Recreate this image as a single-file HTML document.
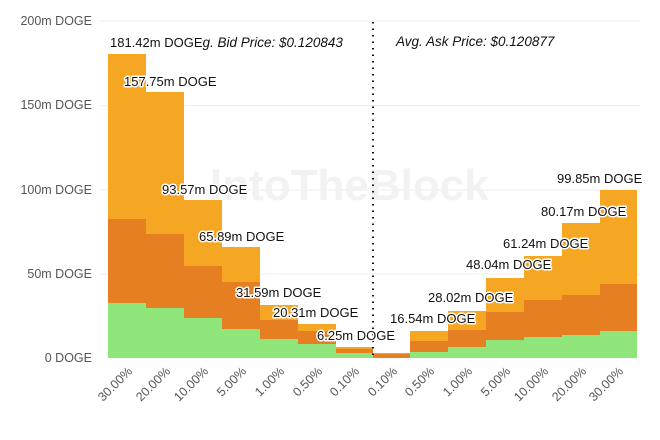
<!DOCTYPE html>
<html><head><style>body{margin:0;background:#fff}svg{display:block;font-family:"Liberation Sans",sans-serif}</style></head><body>
<svg width="660" height="440" viewBox="0 0 660 440">
<g stroke="#ececec" stroke-width="1">
<line x1="100" y1="21" x2="640" y2="21"/><line x1="100" y1="105.5" x2="640" y2="105.5"/><line x1="100" y1="190" x2="640" y2="190"/><line x1="100" y1="274" x2="640" y2="274"/>
</g>
<g font-size="12.5" fill="#555" text-anchor="end">
<text x="92" y="25">200m DOGE</text><text x="92" y="109">150m DOGE</text><text x="92" y="194">100m DOGE</text><text x="92" y="278">50m DOGE</text><text x="92" y="362">0 DOGE</text>
</g>
<text x="210" y="200" font-size="44" font-weight="bold" fill="#f2f2f2">IntoTheBlock</text>
<g fill="#f5a623">
<rect x="108" y="54" width="38" height="304"/>
<rect x="146" y="92" width="38" height="266"/>
<rect x="184" y="200" width="38" height="158"/>
<rect x="222" y="247" width="38" height="111"/>
<rect x="260" y="305" width="38" height="53"/>
<rect x="298" y="324" width="38" height="34"/>
<rect x="336" y="347" width="37" height="11"/>
<rect x="373" y="353" width="37" height="5"/>
<rect x="410" y="331" width="38" height="27"/>
<rect x="448" y="311" width="38" height="47"/>
<rect x="486" y="278" width="38" height="80"/>
<rect x="524" y="256" width="38" height="102"/>
<rect x="562" y="223" width="38" height="135"/>
<rect x="600" y="190" width="37" height="168"/>
</g>
<g fill="#e67e22">
<rect x="108" y="219" width="38" height="139"/>
<rect x="146" y="234" width="38" height="124"/>
<rect x="184" y="266" width="38" height="92"/>
<rect x="222" y="282" width="38" height="76"/>
<rect x="260" y="320" width="38" height="38"/>
<rect x="298" y="331" width="38" height="27"/>
<rect x="336" y="349" width="37" height="9"/>
<rect x="373" y="354" width="37" height="4"/>
<rect x="410" y="341" width="38" height="17"/>
<rect x="448" y="330" width="38" height="28"/>
<rect x="486" y="312" width="38" height="46"/>
<rect x="524" y="300" width="38" height="58"/>
<rect x="562" y="295" width="38" height="63"/>
<rect x="600" y="284" width="37" height="74"/>
</g>
<g fill="#8fe57a">
<rect x="108" y="303" width="38" height="55"/>
<rect x="146" y="308" width="38" height="50"/>
<rect x="184" y="318" width="38" height="40"/>
<rect x="222" y="329" width="38" height="29"/>
<rect x="260" y="339" width="38" height="19"/>
<rect x="298" y="344" width="38" height="14"/>
<rect x="336" y="353" width="37" height="5"/>
<rect x="410" y="352" width="38" height="6"/>
<rect x="448" y="347" width="38" height="11"/>
<rect x="486" y="340" width="38" height="18"/>
<rect x="524" y="337" width="38" height="21"/>
<rect x="562" y="335" width="38" height="23"/>
<rect x="600" y="331" width="37" height="27"/>
</g>
<line x1="373" y1="22" x2="373" y2="356" stroke="#111" stroke-width="2" stroke-dasharray="1.5,5"/>
<g font-size="13.5" font-style="italic" fill="#111">
<text x="187" y="47">Avg. Bid Price: $0.120843</text>
<text x="396" y="46">Avg. Ask Price: $0.120877</text>
</g>
<g font-size="13" fill="#111" stroke="#fff" stroke-width="3" paint-order="stroke" stroke-linejoin="round">
<text x="110" y="47">181.42m DOGE</text>
<text x="124" y="86">157.75m DOGE</text>
<text x="162" y="194">93.57m DOGE</text>
<text x="199" y="241">65.89m DOGE</text>
<text x="236" y="297">31.59m DOGE</text>
<text x="273" y="317">20.31m DOGE</text>
<text x="317" y="340">6.25m DOGE</text>
<text x="390" y="323">16.54m DOGE</text>
<text x="428" y="302">28.02m DOGE</text>
<text x="466" y="269">48.04m DOGE</text>
<text x="503" y="248">61.24m DOGE</text>
<text x="541" y="216">80.17m DOGE</text>
<text x="557" y="183">99.85m DOGE</text>
</g>
<g font-size="12.5" fill="#555" text-anchor="end">
<text x="133" y="372" transform="rotate(-45 133 372)">30.00%</text>
<text x="171" y="372" transform="rotate(-45 171 372)">20.00%</text>
<text x="209" y="372" transform="rotate(-45 209 372)">10.00%</text>
<text x="247" y="372" transform="rotate(-45 247 372)">5.00%</text>
<text x="285" y="372" transform="rotate(-45 285 372)">1.00%</text>
<text x="323" y="372" transform="rotate(-45 323 372)">0.50%</text>
<text x="360" y="372" transform="rotate(-45 360 372)">0.10%</text>
<text x="398" y="372" transform="rotate(-45 398 372)">0.10%</text>
<text x="435" y="372" transform="rotate(-45 435 372)">0.50%</text>
<text x="473" y="372" transform="rotate(-45 473 372)">1.00%</text>
<text x="511" y="372" transform="rotate(-45 511 372)">5.00%</text>
<text x="549" y="372" transform="rotate(-45 549 372)">10.00%</text>
<text x="587" y="372" transform="rotate(-45 587 372)">20.00%</text>
<text x="624" y="372" transform="rotate(-45 624 372)">30.00%</text>
</g>
</svg>
</body></html>
